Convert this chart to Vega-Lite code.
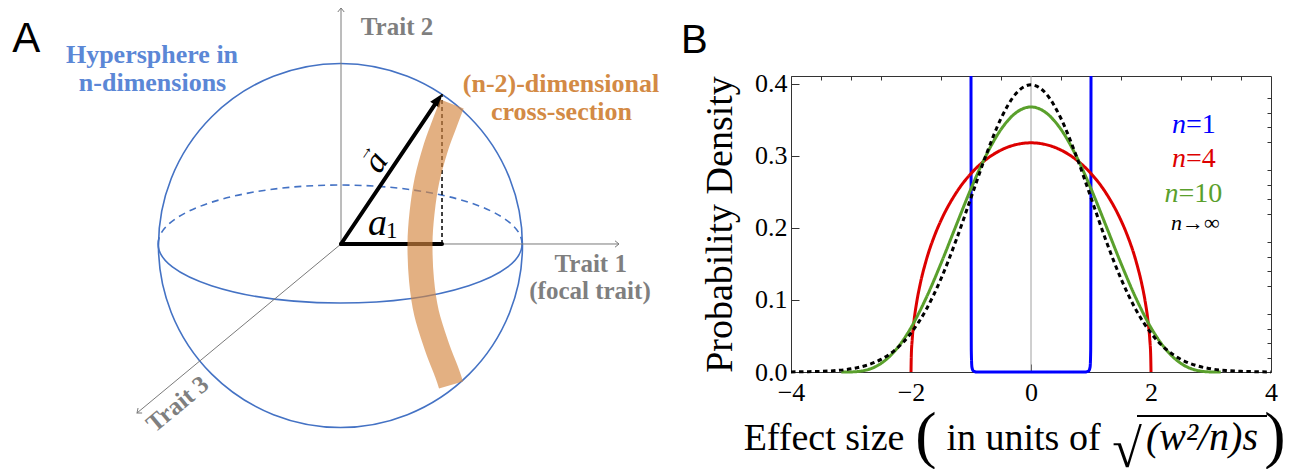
{
  "$schema": "https://vega.github.io/schema/vega-lite/v6.json",
  "background": "white",
  "width": 480,
  "height": 296,
  "autosize": {"type": "none"},
  "padding": {"left": 791, "top": 76, "right": 27, "bottom": 97},
  "config": {"view": {"stroke": "#333333", "strokeWidth": 1}},
  "resolve": {"scale": {"x": "independent", "y": "independent"}, "axis": {"x": "independent", "y": "independent"}},
  "layer": [
    {
      "resolve": {"axis": {"x": "independent", "y": "independent"}},
      "layer": [
        {
          "data": {"values": [{"x": 0}]},
          "mark": {"type": "rule", "color": "#a0a0a0", "strokeWidth": 1},
          "encoding": {
            "x": {"field": "x", "type": "quantitative", "axis": null}
          }
        },
        {
          "data": {"values": [
            {"s": "n=1", "x": -1.0, "y": 0.411},
            {"s": "n=1", "x": -0.995, "y": 0.03},
            {"s": "n=1", "x": -0.985, "y": 0.007},
            {"s": "n=1", "x": -0.96, "y": 0.0015},
            {"s": "n=1", "x": -0.9, "y": 0.0},
            {"s": "n=1", "x": 0.9, "y": 0.0},
            {"s": "n=1", "x": 0.96, "y": 0.0015},
            {"s": "n=1", "x": 0.985, "y": 0.007},
            {"s": "n=1", "x": 0.995, "y": 0.03},
            {"s": "n=1", "x": 1.0, "y": 0.411},
            {"s": "n=4", "x": -2.0, "y": 0.0},
            {"s": "n=4", "x": -1.995, "y": 0.0225},
            {"s": "n=4", "x": -1.98, "y": 0.0449},
            {"s": "n=4", "x": -1.95, "y": 0.0707},
            {"s": "n=4", "x": -1.9, "y": 0.0994},
            {"s": "n=4", "x": -1.85, "y": 0.1209},
            {"s": "n=4", "x": -1.75, "y": 0.1541},
            {"s": "n=4", "x": -1.6, "y": 0.1910},
            {"s": "n=4", "x": -1.5, "y": 0.2105},
            {"s": "n=4", "x": -1.25, "y": 0.2485},
            {"s": "n=4", "x": -1.0, "y": 0.2757},
            {"s": "n=4", "x": -0.75, "y": 0.2951},
            {"s": "n=4", "x": -0.5, "y": 0.3082},
            {"s": "n=4", "x": -0.25, "y": 0.3158},
            {"s": "n=4", "x": 0.0, "y": 0.3183},
            {"s": "n=4", "x": 0.25, "y": 0.3158},
            {"s": "n=4", "x": 0.5, "y": 0.3082},
            {"s": "n=4", "x": 0.75, "y": 0.2951},
            {"s": "n=4", "x": 1.0, "y": 0.2757},
            {"s": "n=4", "x": 1.25, "y": 0.2485},
            {"s": "n=4", "x": 1.5, "y": 0.2105},
            {"s": "n=4", "x": 1.6, "y": 0.1910},
            {"s": "n=4", "x": 1.75, "y": 0.1541},
            {"s": "n=4", "x": 1.85, "y": 0.1209},
            {"s": "n=4", "x": 1.9, "y": 0.0994},
            {"s": "n=4", "x": 1.95, "y": 0.0707},
            {"s": "n=4", "x": 1.98, "y": 0.0449},
            {"s": "n=4", "x": 1.995, "y": 0.0225},
            {"s": "n=4", "x": 2.0, "y": 0.0},
            {"s": "n=10", "x": -3.162, "y": 0.0},
            {"s": "n=10", "x": -3.0, "y": 0.0001},
            {"s": "n=10", "x": -2.75, "y": 0.0026},
            {"s": "n=10", "x": -2.5, "y": 0.0119},
            {"s": "n=10", "x": -2.25, "y": 0.0311},
            {"s": "n=10", "x": -2.0, "y": 0.0616},
            {"s": "n=10", "x": -1.75, "y": 0.1024},
            {"s": "n=10", "x": -1.5, "y": 0.1508},
            {"s": "n=10", "x": -1.25, "y": 0.2031},
            {"s": "n=10", "x": -1.0, "y": 0.2546},
            {"s": "n=10", "x": -0.75, "y": 0.3006},
            {"s": "n=10", "x": -0.5, "y": 0.3369},
            {"s": "n=10", "x": -0.25, "y": 0.3601},
            {"s": "n=10", "x": 0.0, "y": 0.3681},
            {"s": "n=10", "x": 0.25, "y": 0.3601},
            {"s": "n=10", "x": 0.5, "y": 0.3369},
            {"s": "n=10", "x": 0.75, "y": 0.3006},
            {"s": "n=10", "x": 1.0, "y": 0.2546},
            {"s": "n=10", "x": 1.25, "y": 0.2031},
            {"s": "n=10", "x": 1.5, "y": 0.1508},
            {"s": "n=10", "x": 1.75, "y": 0.1024},
            {"s": "n=10", "x": 2.0, "y": 0.0616},
            {"s": "n=10", "x": 2.25, "y": 0.0311},
            {"s": "n=10", "x": 2.5, "y": 0.0119},
            {"s": "n=10", "x": 2.75, "y": 0.0026},
            {"s": "n=10", "x": 3.0, "y": 0.0001},
            {"s": "n=10", "x": 3.162, "y": 0.0},
            {"s": "n→∞", "x": -4.0, "y": 0.0001},
            {"s": "n→∞", "x": -3.75, "y": 0.0004},
            {"s": "n→∞", "x": -3.5, "y": 0.0009},
            {"s": "n→∞", "x": -3.25, "y": 0.0020},
            {"s": "n→∞", "x": -3.0, "y": 0.0044},
            {"s": "n→∞", "x": -2.75, "y": 0.0091},
            {"s": "n→∞", "x": -2.5, "y": 0.0175},
            {"s": "n→∞", "x": -2.25, "y": 0.0317},
            {"s": "n→∞", "x": -2.0, "y": 0.0540},
            {"s": "n→∞", "x": -1.75, "y": 0.0863},
            {"s": "n→∞", "x": -1.5, "y": 0.1295},
            {"s": "n→∞", "x": -1.25, "y": 0.1826},
            {"s": "n→∞", "x": -1.0, "y": 0.2420},
            {"s": "n→∞", "x": -0.75, "y": 0.3011},
            {"s": "n→∞", "x": -0.5, "y": 0.3521},
            {"s": "n→∞", "x": -0.25, "y": 0.3867},
            {"s": "n→∞", "x": 0.0, "y": 0.3989},
            {"s": "n→∞", "x": 0.25, "y": 0.3867},
            {"s": "n→∞", "x": 0.5, "y": 0.3521},
            {"s": "n→∞", "x": 0.75, "y": 0.3011},
            {"s": "n→∞", "x": 1.0, "y": 0.2420},
            {"s": "n→∞", "x": 1.25, "y": 0.1826},
            {"s": "n→∞", "x": 1.5, "y": 0.1295},
            {"s": "n→∞", "x": 1.75, "y": 0.0863},
            {"s": "n→∞", "x": 2.0, "y": 0.0540},
            {"s": "n→∞", "x": 2.25, "y": 0.0317},
            {"s": "n→∞", "x": 2.5, "y": 0.0175},
            {"s": "n→∞", "x": 2.75, "y": 0.0091},
            {"s": "n→∞", "x": 3.0, "y": 0.0044},
            {"s": "n→∞", "x": 3.25, "y": 0.0020},
            {"s": "n→∞", "x": 3.5, "y": 0.0009},
            {"s": "n→∞", "x": 3.75, "y": 0.0004},
            {"s": "n→∞", "x": 4.0, "y": 0.0001}
          ]},
          "mark": {"type": "line", "strokeWidth": 3, "interpolate": "monotone"},
          "encoding": {
            "x": {
              "field": "x", "type": "quantitative",
              "scale": {"domain": [-4, 4], "nice": false, "zero": false},
              "axis": {"values": [-4, -2, 0, 2, 4], "tickSize": -8, "tickWidth": 1, "tickColor": "#333333", "domainColor": "#333333", "labelFont": "Liberation Serif", "labelFontSize": 26, "labelColor": "#000000", "labelPadding": 15, "labelFlush": false, "labelOverlap": false, "title": null, "grid": false}
            },
            "y": {
              "field": "y", "type": "quantitative",
              "scale": {"domain": [0, 0.41111], "nice": false, "zero": false},
              "axis": {"values": [0, 0.1, 0.2, 0.3, 0.4], "format": ".1f", "tickSize": -8, "tickWidth": 1, "tickColor": "#333333", "domainColor": "#333333", "labelFont": "Liberation Serif", "labelFontSize": 26, "labelColor": "#000000", "labelPadding": 12, "labelOverlap": false, "grid": false, "title": "Probability Density", "titleFont": "Liberation Serif", "titleFontSize": 38, "titleFontWeight": "normal", "titleColor": "#000000", "titlePadding": 15}
            },
            "color": {"field": "s", "type": "nominal", "scale": {"domain": ["n=1", "n=4", "n=10", "n→∞"], "range": ["#0000FF", "#DD0000", "#5AA02C", "#000000"]}, "legend": null},
            "strokeDash": {"field": "s", "type": "nominal", "scale": {"domain": ["n=1", "n=4", "n=10", "n→∞"], "range": [[1, 0], [1, 0], [1, 0], [4.5, 3.5]]}, "legend": null}
          }
        },
        {
          "data": {"values": [
            {"s": "n=1", "t": "n", "x": 2.5833, "y": 0.3315},
            {"s": "n=4", "t": "n", "x": 2.5833, "y": 0.2851},
            {"s": "n=10", "t": "n", "x": 2.4583, "y": 0.2365}
          ]},
          "mark": {"type": "text", "font": "Liberation Serif", "fontStyle": "italic", "fontSize": 28, "align": "right", "baseline": "alphabetic"},
          "encoding": {
            "x": {"field": "x", "type": "quantitative", "axis": {"values": [-3.5, -3, -2.5, -1.5, -1, -0.5, 0.5, 1, 1.5, 2.5, 3, 3.5], "tickSize": -4, "tickWidth": 1, "tickColor": "#333333", "labels": false, "domain": false, "title": null, "grid": false}},
            "y": {"field": "y", "type": "quantitative", "axis": {"values": [0.02, 0.04, 0.06, 0.08, 0.12, 0.14, 0.16, 0.18, 0.22, 0.24, 0.26, 0.28, 0.32, 0.34, 0.36, 0.38], "tickSize": -4, "tickWidth": 1, "tickColor": "#333333", "labels": false, "domain": false, "title": null, "grid": false}},
            "text": {"field": "t"},
            "color": {"field": "s", "type": "nominal", "legend": null}
          }
        },
        {
          "data": {"values": [
            {"s": "n=1", "t": "=1", "x": 2.5833, "y": 0.3315},
            {"s": "n=4", "t": "=4", "x": 2.5833, "y": 0.2851},
            {"s": "n=10", "t": "=10", "x": 2.4583, "y": 0.2365}
          ]},
          "mark": {"type": "text", "font": "Liberation Serif", "fontSize": 28, "align": "left", "baseline": "alphabetic"},
          "encoding": {
            "x": {"field": "x", "type": "quantitative", "axis": null},
            "y": {"field": "y", "type": "quantitative", "axis": null},
            "text": {"field": "t"},
            "color": {"field": "s", "type": "nominal", "legend": null}
          }
        },
        {
          "data": {"values": [{"t": "n", "x": 2.5167, "y": 0.1972}]},
          "mark": {"type": "text", "font": "Liberation Serif", "fontStyle": "italic", "fontSize": 22, "align": "right", "baseline": "alphabetic", "color": "#000000"},
          "encoding": {
            "x": {"field": "x", "type": "quantitative", "axis": null},
            "y": {"field": "y", "type": "quantitative", "axis": null},
            "text": {"field": "t"}
          }
        },
        {
          "data": {"values": [{"t": "→∞", "x": 2.5167, "y": 0.1972}]},
          "mark": {"type": "text", "font": "Liberation Serif", "fontSize": 22, "align": "left", "baseline": "alphabetic", "color": "#000000"},
          "encoding": {
            "x": {"field": "x", "type": "quantitative", "axis": null},
            "y": {"field": "y", "type": "quantitative", "axis": null},
            "text": {"field": "t"}
          }
        },
        {
          "data": {"values": [{"t": "B", "x": -5.8333, "y": 0.44264}]},
          "mark": {"type": "text", "font": "Liberation Sans", "fontSize": 40, "align": "left", "baseline": "alphabetic", "color": "#000000"},
          "encoding": {
            "x": {"field": "x", "type": "quantitative", "axis": null},
            "y": {"field": "y", "type": "quantitative", "axis": null},
            "text": {"field": "t"}
          }
        },
        {
          "data": {"values": [
            {"t": "Effect size", "x": -3.45, "y": -0.10833},
            {"t": "in units of", "x": -0.125, "y": -0.10833}
          ]},
          "mark": {"type": "text", "font": "Liberation Serif", "fontSize": 38, "align": "center", "baseline": "alphabetic", "color": "#000000"},
          "encoding": {
            "x": {"field": "x", "type": "quantitative", "axis": null},
            "y": {"field": "y", "type": "quantitative", "axis": null},
            "text": {"field": "t"}
          }
        },
        {
          "data": {"values": [
            {"t": "(", "x": -1.75, "y": -0.1165},
            {"t": ")", "x": 4.0667, "y": -0.1165}
          ]},
          "mark": {"type": "text", "font": "Liberation Serif", "fontSize": 64, "align": "center", "baseline": "alphabetic", "color": "#000000"},
          "encoding": {
            "x": {"field": "x", "type": "quantitative", "axis": null},
            "y": {"field": "y", "type": "quantitative", "axis": null},
            "text": {"field": "t"}
          }
        },
        {
          "data": {"values": [{"t": "√", "x": 1.85, "y": -0.1319}]},
          "mark": {"type": "text", "font": "Liberation Serif", "fontSize": 54, "align": "right", "baseline": "alphabetic", "color": "#000000"},
          "encoding": {
            "x": {"field": "x", "type": "quantitative", "axis": null},
            "y": {"field": "y", "type": "quantitative", "axis": null},
            "text": {"field": "t"}
          }
        },
        {
          "data": {"values": [{"t": "(w²/n)s", "x": 2.85, "y": -0.10833}]},
          "mark": {"type": "text", "font": "Liberation Serif", "fontStyle": "italic", "fontSize": 40, "align": "center", "baseline": "alphabetic", "color": "#000000"},
          "encoding": {
            "x": {"field": "x", "type": "quantitative", "axis": null},
            "y": {"field": "y", "type": "quantitative", "axis": null},
            "text": {"field": "t"}
          }
        },
        {
          "data": {"values": [{"x": 1.7667, "x2": 3.9333, "y": -0.0611}]},
          "mark": {"type": "rule", "color": "#000000", "strokeWidth": 1.8},
          "encoding": {
            "x": {"field": "x", "type": "quantitative", "axis": null},
            "x2": {"field": "x2"},
            "y": {"field": "y", "type": "quantitative", "axis": null}
          }
        }
      ]
    },
    {
      "layer": [
        {
          "data": {"values": [{"x": -0.003, "y": -0.008}]},
          "mark": {"type": "point", "shape": "circle", "filled": false, "stroke": "#4472C4", "strokeWidth": 1.6, "size": 132496, "opacity": 1},
          "encoding": {
            "x": {"field": "x", "type": "quantitative", "axis": null, "scale": {"domain": [2.472527, 5.10989], "nice": false, "zero": false}},
            "y": {"field": "y", "type": "quantitative", "axis": null, "scale": {"domain": [-0.703297, 0.923077], "nice": false, "zero": false}}
          }
        },
        {
          "data": {"values": [{"x": -0.005, "y": 0}]},
          "mark": {"type": "point", "shape": "M -1 0 C -1 -0.1789 -0.5523 -0.324 0 -0.324 C 0.5523 -0.324 1 -0.1789 1 0", "filled": false, "stroke": "#4472C4", "strokeWidth": 1.6, "strokeDash": [7, 5], "size": 132496, "opacity": 1},
          "encoding": {
            "x": {"field": "x", "type": "quantitative", "axis": null},
            "y": {"field": "y", "type": "quantitative", "axis": null}
          }
        },
        {
          "data": {"values": [{"x": -0.005, "y": 0}]},
          "mark": {"type": "point", "shape": "M -1 0 C -1 0.1789 -0.5523 0.324 0 0.324 C 0.5523 0.324 1 0.1789 1 0", "filled": false, "stroke": "#4472C4", "strokeWidth": 1.6, "size": 132496, "opacity": 1},
          "encoding": {
            "x": {"field": "x", "type": "quantitative", "axis": null},
            "y": {"field": "y", "type": "quantitative", "axis": null}
          }
        },
        {
          "data": {"values": [
            {"x": 0, "y": 0, "x2": 0, "y2": 1.2967},
            {"x": 0, "y": 0, "x2": 1.5275, "y2": 0},
            {"x": 0, "y": 0, "x2": -1.1209, "y2": -0.9286}
          ]},
          "mark": {"type": "rule", "color": "#7a7a7a", "strokeWidth": 1},
          "encoding": {
            "x": {"field": "x", "type": "quantitative", "axis": null},
            "y": {"field": "y", "type": "quantitative", "axis": null},
            "x2": {"field": "x2"},
            "y2": {"field": "y2"}
          }
        },
        {
          "data": {"values": [{"x": 0, "y": 1.2967}]},
          "mark": {"type": "point", "shape": "M -1 -0.8 L 0 0 L -1 0.8", "filled": false, "stroke": "#7a7a7a", "strokeWidth": 1, "size": 64, "angle": -90, "opacity": 1},
          "encoding": {
            "x": {"field": "x", "type": "quantitative", "axis": null},
            "y": {"field": "y", "type": "quantitative", "axis": null}
          }
        },
        {
          "data": {"values": [{"x": 1.5275, "y": 0}]},
          "mark": {"type": "point", "shape": "M -1 -0.8 L 0 0 L -1 0.8", "filled": false, "stroke": "#7a7a7a", "strokeWidth": 1, "size": 64, "angle": 0, "opacity": 1},
          "encoding": {
            "x": {"field": "x", "type": "quantitative", "axis": null},
            "y": {"field": "y", "type": "quantitative", "axis": null}
          }
        },
        {
          "data": {"values": [{"x": -1.1209, "y": -0.9286}]},
          "mark": {"type": "point", "shape": "M -1 -0.8 L 0 0 L -1 0.8", "filled": false, "stroke": "#7a7a7a", "strokeWidth": 1, "size": 64, "angle": 140.4, "opacity": 1},
          "encoding": {
            "x": {"field": "x", "type": "quantitative", "axis": null},
            "y": {"field": "y", "type": "quantitative", "axis": null}
          }
        },
        {
          "data": {"values": [
            {"x": 0, "y": 0, "x2": 0.555, "y2": 0},
            {"x": 0, "y": 0, "x2": 0.5302, "y2": 0.7879}
          ]},
          "mark": {"type": "rule", "color": "#000000", "strokeWidth": 4, "strokeCap": "round"},
          "encoding": {
            "x": {"field": "x", "type": "quantitative", "axis": null},
            "y": {"field": "y", "type": "quantitative", "axis": null},
            "x2": {"field": "x2"},
            "y2": {"field": "y2"}
          }
        },
        {
          "data": {"values": [{"x": 0.555, "y": 0.8242}]},
          "mark": {"type": "point", "shape": "M 0 0 L -1 -0.42 L -1 0.42 Z", "filled": true, "color": "#000000", "strokeWidth": 0, "size": 676, "angle": -56.05, "opacity": 1},
          "encoding": {
            "x": {"field": "x", "type": "quantitative", "axis": null},
            "y": {"field": "y", "type": "quantitative", "axis": null}
          }
        },
        {
          "data": {"values": [{"x": 0.555, "y": 0, "x2": 0.555, "y2": 0.8242}]},
          "mark": {"type": "rule", "color": "#000000", "strokeWidth": 1.5, "strokeDash": [4, 3]},
          "encoding": {
            "x": {"field": "x", "type": "quantitative", "axis": null},
            "y": {"field": "y", "type": "quantitative", "axis": null},
            "x2": {"field": "x2"},
            "y2": {"field": "y2"}
          }
        },
        {
          "data": {"values": [
            {"i": 0, "x": 0.6099, "y": 0.7692},
            {"i": 1, "x": 0.5659, "y": 0.6538},
            {"i": 2, "x": 0.5220, "y": 0.5330},
            {"i": 3, "x": 0.4725, "y": 0.3516},
            {"i": 4, "x": 0.4451, "y": 0.1703},
            {"i": 5, "x": 0.4341, "y": 0.0055},
            {"i": 6, "x": 0.4423, "y": -0.1978},
            {"i": 7, "x": 0.4698, "y": -0.3791},
            {"i": 8, "x": 0.5275, "y": -0.5659},
            {"i": 9, "x": 0.5824, "y": -0.7088},
            {"i": 10, "x": 0.6044, "y": -0.7747}
          ]},
          "mark": {"type": "line", "color": "#D4853F", "strokeWidth": 25, "strokeCap": "butt", "opacity": 0.65, "interpolate": "cardinal"},
          "encoding": {
            "x": {"field": "x", "type": "quantitative", "axis": null},
            "y": {"field": "y", "type": "quantitative", "axis": null},
            "order": {"field": "i", "type": "quantitative"}
          }
        },
        {
          "data": {"values": [
            {"t": "Trait 2", "x": 0.3077, "y": 1.1484},
            {"t": "Trait 1", "x": 1.372, "y": -0.1522},
            {"t": "(focal trait)", "x": 1.3681, "y": -0.3022}
          ]},
          "mark": {"type": "text", "font": "Liberation Serif", "fontWeight": "bold", "fontSize": 25, "color": "#7F7F7F", "align": "center", "baseline": "alphabetic"},
          "encoding": {
            "x": {"field": "x", "type": "quantitative", "axis": null},
            "y": {"field": "y", "type": "quantitative", "axis": null},
            "text": {"field": "t"}
          }
        },
        {
          "data": {"values": [{"t": "Trait 3", "x": -0.8984, "y": -0.8791}]},
          "mark": {"type": "text", "font": "Liberation Serif", "fontWeight": "bold", "fontSize": 25, "color": "#7F7F7F", "align": "center", "baseline": "middle", "angle": -39.6},
          "encoding": {
            "x": {"field": "x", "type": "quantitative", "axis": null},
            "y": {"field": "y", "type": "quantitative", "axis": null},
            "text": {"field": "t"}
          }
        },
        {
          "data": {"values": [
            {"t": "Hypersphere in", "x": -1.0385, "y": 0.9962},
            {"t": "n-dimensions", "x": -1.0355, "y": 0.8423}
          ]},
          "mark": {"type": "text", "font": "Liberation Serif", "fontWeight": "bold", "fontSize": 26, "color": "#5B87D6", "align": "center", "baseline": "alphabetic"},
          "encoding": {
            "x": {"field": "x", "type": "quantitative", "axis": null},
            "y": {"field": "y", "type": "quantitative", "axis": null},
            "text": {"field": "t"}
          }
        },
        {
          "data": {"values": [
            {"t": "(n-2)-dimensional", "x": 1.2088, "y": 0.8352},
            {"t": "cross-section", "x": 1.2115, "y": 0.6813}
          ]},
          "mark": {"type": "text", "font": "Liberation Serif", "fontWeight": "bold", "fontSize": 26, "color": "#D38A45", "align": "center", "baseline": "alphabetic"},
          "encoding": {
            "x": {"field": "x", "type": "quantitative", "axis": null},
            "y": {"field": "y", "type": "quantitative", "axis": null},
            "text": {"field": "t"}
          }
        },
        {
          "data": {"values": [{"t": "A", "x": -1.7291, "y": 1.0522}]},
          "mark": {"type": "text", "font": "Liberation Sans", "fontSize": 42, "color": "#000000", "align": "center", "baseline": "alphabetic"},
          "encoding": {
            "x": {"field": "x", "type": "quantitative", "axis": null},
            "y": {"field": "y", "type": "quantitative", "axis": null},
            "text": {"field": "t"}
          }
        },
        {
          "data": {"values": [{"t": "a", "x": 0.1923, "y": 0.4505}]},
          "mark": {"type": "text", "font": "Liberation Serif", "fontStyle": "italic", "fontSize": 34, "color": "#000000", "align": "center", "baseline": "middle", "angle": -56},
          "encoding": {
            "x": {"field": "x", "type": "quantitative", "axis": null},
            "y": {"field": "y", "type": "quantitative", "axis": null},
            "text": {"field": "t"}
          }
        },
        {
          "data": {"values": [{"t": "→", "x": 0.1319, "y": 0.5055}]},
          "mark": {"type": "text", "font": "Liberation Serif", "fontSize": 18, "color": "#000000", "align": "center", "baseline": "middle", "angle": -56},
          "encoding": {
            "x": {"field": "x", "type": "quantitative", "axis": null},
            "y": {"field": "y", "type": "quantitative", "axis": null},
            "text": {"field": "t"}
          }
        },
        {
          "data": {"values": [{"t": "a", "x": 0.1484, "y": 0.0495}]},
          "mark": {"type": "text", "font": "Liberation Serif", "fontStyle": "italic", "fontSize": 38, "color": "#000000", "align": "left", "baseline": "alphabetic"},
          "encoding": {
            "x": {"field": "x", "type": "quantitative", "axis": null},
            "y": {"field": "y", "type": "quantitative", "axis": null},
            "text": {"field": "t"}
          }
        },
        {
          "data": {"values": [{"t": "1", "x": 0.2473, "y": 0.033}]},
          "mark": {"type": "text", "font": "Liberation Serif", "fontSize": 23, "color": "#000000", "align": "left", "baseline": "alphabetic"},
          "encoding": {
            "x": {"field": "x", "type": "quantitative", "axis": null},
            "y": {"field": "y", "type": "quantitative", "axis": null},
            "text": {"field": "t"}
          }
        }
      ]
    }
  ]
}
